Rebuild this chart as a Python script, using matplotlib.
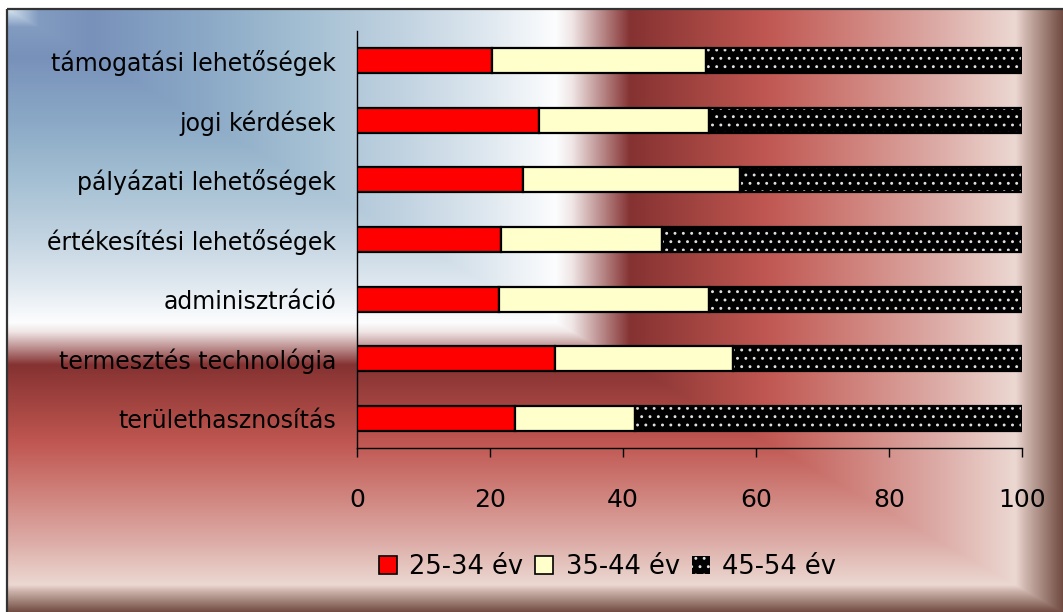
import numpy as np
import matplotlib
matplotlib.use("Agg")
import matplotlib.pyplot as plt
from matplotlib.patches import Patch

# ---------------- data ----------------
categories = [
    "támogatási lehetőségek",
    "jogi kérdések",
    "pályázati lehetőségek",
    "értékesítési lehetőségek",
    "adminisztráció",
    "termesztés technológia",
    "területhasznosítás",
]
age_25_34 = [20.3, 27.3, 25.0, 21.6, 21.3, 29.7, 23.7]
age_35_44 = [32.2, 25.7, 32.6, 24.2, 31.7, 26.8, 18.1]
age_45_54 = [47.5, 47.0, 42.4, 54.2, 47.0, 43.5, 58.2]
series_labels = ["25-34 év", "35-44 év", "45-54 év"]
x_ticks = [0, 20, 40, 60, 80, 100]

plt.rcParams["font.family"] = ["DejaVu Sans"]
plt.rcParams["hatch.linewidth"] = 0.9

W, H = 1063, 612
fig = plt.figure(figsize=(W / 100, H / 100), dpi=100)
fig.patch.set_facecolor("white")

# ---------------- background (corner gradient) ----------------
bg = fig.add_axes([0, 0, 1, 1])
bg.set_axis_off()
x0, y0 = 7, 9
X, Y = np.meshgrid(np.arange(W) + 0.5, np.arange(H) + 0.5)
D = np.maximum((X - x0) / (W - x0), (Y - y0) / (H - y0))
stops = [0.000, 0.030, 0.080, 0.183, 0.277, 0.372, 0.448, 0.520, 0.535,
         0.590, 0.660, 0.720, 0.800, 0.880, 0.955, 0.965, 1.000]
cols = np.array([
    (215, 230, 240), (130, 155, 192), (120, 145, 186), (138, 168, 198),
    (162, 190, 210), (192, 210, 224), (220, 230, 238), (252, 253, 254),
    (240, 230, 230), (133, 50, 50), (165, 70, 66), (192, 87, 82),
    (207, 128, 122), (220, 170, 165), (236, 216, 210), (205, 180, 172),
    (112, 75, 65)]) / 255.0
img = np.stack([np.interp(D, stops, cols[:, i]) for i in range(3)], axis=-1)
img[(X < x0) | (Y < y0)] = 1.0
bg.imshow(img, extent=[0, W, H, 0], aspect="auto", interpolation="nearest")
bg.set_xlim(0, W)
bg.set_ylim(H, 0)
bg.plot([x0, x0], [H, y0], color="#333333", lw=1.6, solid_capstyle="butt")
bg.plot([x0, W], [y0, y0], color="#333333", lw=1.6, solid_capstyle="butt")

# ---------------- chart ----------------
ax = fig.add_axes([357 / W, 1 - 448 / H, 665 / W, 417 / H])
ax.set_facecolor("none")

y = np.arange(len(categories))
a = np.array(age_25_34)
b = np.array(age_35_44)
c = np.array(age_45_54)
bh = 0.42

ax.barh(y, a, height=bh, color="#ff0000", edgecolor="black", lw=1.6, zorder=3)
ax.barh(y, b, left=a, height=bh, color="#ffffcc", edgecolor="black", lw=1.6, zorder=3)
ax.barh(y, c, left=a + b, height=bh, color="black", edgecolor="#e0e0e0",
        hatch="..", lw=0, zorder=3)
ax.barh(y, c, left=a + b, height=bh, fill=False, edgecolor="black", lw=1.6, zorder=4)

ax.set_xlim(0, 100)
ax.set_ylim(len(categories) - 0.5, -0.5)
ax.set_yticks(y, categories)
ax.set_xticks(x_ticks)
ax.tick_params(axis="y", length=0, pad=15, labelsize=17)
ax.tick_params(axis="x", length=6.5, width=1, direction="out", pad=22, labelsize=18)
for s in ("top", "right"):
    ax.spines[s].set_visible(False)
for s in ("left", "bottom"):
    ax.spines[s].set_color("black")
    ax.spines[s].set_linewidth(1)

handles = [
    Patch(facecolor="#ff0000", edgecolor="black", lw=1.2),
    Patch(facecolor="#ffffcc", edgecolor="black", lw=1.2),
    Patch(facecolor="black", edgecolor="#e0e0e0", hatch="..", lw=0),
]
fig.legend(handles, series_labels, loc="center", bbox_to_anchor=(0.5715, 0.0735),
           ncol=3, frameon=False, fontsize=18.5, handlelength=0.7,
           handleheight=0.75, handletextpad=0.47, columnspacing=0.47)

fig.savefig("out.png", dpi=100)
